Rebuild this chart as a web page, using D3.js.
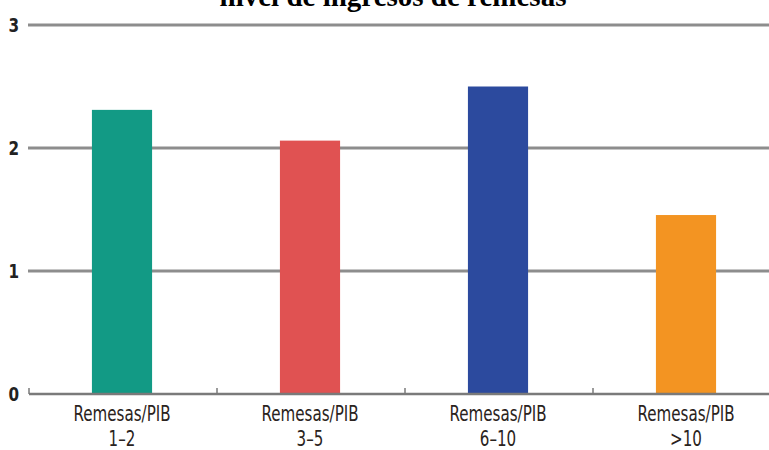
<!DOCTYPE html>
<html><head><meta charset="utf-8">
<script src="https://cdn.jsdelivr.net/npm/d3@7"></script>
<style>html,body{margin:0;padding:0;background:#fff;}</style>
</head><body>
<svg id="c" width="769" height="450"></svg>
<script>
const title = "nivel de ingresos de remesas";
const categories = ["1\u20132", "3\u20135", "6\u201310", ">10"];
const categoryPrefix = "Remesas/PIB";
const values = [2.31, 2.06, 2.50, 1.455];
const colors = ["#129a85", "#e05252", "#2c4a9e", "#f39422"];
const yTicks = [0, 1, 2, 3];

const svg = d3.select("#c");
const x = d3.scaleBand().domain(categories).range([28, 780]).paddingInner(0).paddingOuter(0);
const y = d3.scaleLinear().domain([0, 3]).range([394, 25]);
const barW = x.bandwidth() * 0.32;
const font = "'DejaVu Sans','Liberation Sans',sans-serif";

// gridlines
svg.append("g").selectAll("line").data(yTicks.filter(d => d > 0)).join("line")
  .attr("x1", 28).attr("x2", 769)
  .attr("y1", d => y(d)).attr("y2", d => y(d))
  .attr("stroke", "#8d8d8d").attr("stroke-width", 3);

// y labels
svg.append("g").selectAll("text").data(yTicks).join("text")
  .attr("transform", d => `translate(19,${y(d) + 7}) scale(0.8,1)`)
  .attr("text-anchor", "end")
  .attr("font-family", font).attr("font-weight", "bold")
  .attr("font-size", 19).attr("fill", "#222")
  .text(d => d);

// bars
svg.append("g").selectAll("rect").data(values).join("rect")
  .attr("x", (d, i) => x(categories[i]) + (x.bandwidth() - barW) / 2)
  .attr("width", barW)
  .attr("y", d => y(d))
  .attr("height", d => y(0) - y(d))
  .attr("fill", (d, i) => colors[i]);

// x axis line
svg.append("line").attr("x1", 29).attr("x2", 769)
  .attr("y1", y(0)).attr("y2", y(0))
  .attr("stroke", "#7a7a7a").attr("stroke-width", 2.5);
// x ticks at band boundaries
svg.append("g").selectAll("line").data(categories).join("line")
  .attr("x1", d => Math.round(x(d)) + 1).attr("x2", d => Math.round(x(d)) + 1)
  .attr("y1", y(0) - 6).attr("y2", y(0))
  .attr("stroke", "#7a7a7a").attr("stroke-width", 1.5);

// x labels
const lg = svg.append("g").selectAll("g").data(categories).join("g")
  .attr("transform", d => `translate(${x(d) + x.bandwidth() / 2},0)`);
lg.append("text").attr("transform", "translate(0,421) scale(0.72,1)").attr("text-anchor", "middle")
  .attr("font-family", font).attr("font-size", 21).attr("fill", "#2a2320")
  .text(categoryPrefix);
lg.append("text").attr("transform", "translate(0,446) scale(0.72,1)").attr("text-anchor", "middle")
  .attr("font-family", font).attr("font-size", 21).attr("fill", "#2a2320")
  .text(d => d);

// title (cut off at top, as in the reference)
svg.append("text").attr("x", 393).attr("y", 6).attr("text-anchor", "middle")
  .attr("font-family", "'Liberation Serif','Times New Roman',serif")
  .attr("font-weight", "bold").attr("font-size", 29).attr("fill", "#000")
  .text(title);
</script>
</body></html>
